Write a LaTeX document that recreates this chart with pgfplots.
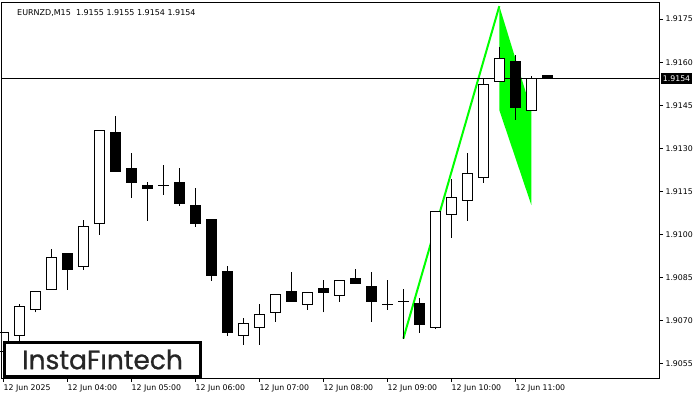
\documentclass[border=0pt]{standalone}
\usepackage{fontspec}
\setmainfont{DejaVu Sans}
\newfontfamily\logofont{Poppins}[FakeBold=0.8]
\usepackage{pgfplots}
\usepackage{pgfplotstable}
\pgfplotsset{compat=1.18}
\definecolor{flaggreen}{RGB}{0,255,0}
\pgfplotstableread{
i o h l c
0 1.90592 1.90661 1.90578 1.90661
1 1.90650 1.90760 1.90627 1.90751
2 1.90740 1.90801 1.90729 1.90801
3 1.90810 1.90950 1.90810 1.90922
4 1.90933 1.90933 1.90808 1.90878
5 1.90890 1.91051 1.90878 1.91029
6 1.91040 1.91363 1.91000 1.91363
7 1.91354 1.91413 1.91219 1.91219
8 1.91231 1.91284 1.91129 1.91181
9 1.91172 1.91183 1.91049 1.91160
10 1.91172 1.91242 1.91139 1.91172
11 1.91183 1.91232 1.91101 1.91108
12 1.91103 1.91162 1.91028 1.91038
13 1.91051 1.91051 1.90840 1.90857
14 1.90870 1.90891 1.90648 1.90659
15 1.90649 1.90710 1.90617 1.90689
16 1.90676 1.90759 1.90617 1.90721
17 1.90729 1.90790 1.90696 1.90790
18 1.90801 1.90870 1.90767 1.90767
19 1.90756 1.90800 1.90739 1.90800
20 1.90811 1.90842 1.90729 1.90798
21 1.90788 1.90842 1.90767 1.90842
22 1.90849 1.90881 1.90829 1.90829
23 1.90821 1.90870 1.90696 1.90767
24 1.90758 1.90842 1.90739 1.90758
25 1.90768 1.90811 1.90638 1.90768
26 1.90759 1.90780 1.90659 1.90687
27 1.90678 1.91081 1.90672 1.91081
28 1.91071 1.91194 1.90989 1.91130
29 1.91119 1.91284 1.91049 1.91211
30 1.91199 1.91544 1.91181 1.91523
31 1.91533 1.91653 1.91533 1.91613
32 1.91604 1.91625 1.91400 1.91442
33 1.91432 1.91552 1.91432 1.91544
34 1.91552 1.91552 1.91544 1.91544
}\candles
\begin{document}
\begin{tikzpicture}
\path[use as bounding box, fill=white] (0,0) rectangle (700pt,400pt);
\begin{axis}[
  at={(2pt,22pt)}, anchor=south west,
  width=657pt, height=375pt, scale only axis,
  xmin=-0.08, xmax=40.98, ymin=1.90501, ymax=1.91806,
  axis line style={line width=1pt, black},
  clip=true,
  xtick={0,4,8,12,16,20,24,28,32},
  xticklabels={12 Jun 2025,12 Jun 04:00,12 Jun 05:00,12 Jun 06:00,12 Jun 07:00,12 Jun 08:00,12 Jun 09:00,12 Jun 10:00,12 Jun 11:00},
  xtick pos=bottom,
  ytick={1.9055,1.9070,1.9085,1.9100,1.9115,1.9130,1.9145,1.9160,1.9175},
  yticklabels={1.9055,1.9070,1.9085,1.9100,1.9115,1.9130,1.9145,1.9160,1.9175},
  ytick pos=right, yticklabel pos=right,
  tick align=outside, major tick length=4pt,
  tick style={line width=1pt, black},
  xticklabel style={anchor=north west, xshift=-3.2pt, yshift=1pt, font=\fontsize{7.8}{9}\selectfont},
  yticklabel style={anchor=west, xshift=-1pt, font=\fontsize{7.8}{9}\selectfont},
]
% flag pattern
\addplot[fill=flaggreen, draw=none] coordinates {(31,1.91795) (33,1.91433) (33,1.91103) (31,1.91433)} -- cycle;
\addplot[flaggreen, line width=2pt, mark=none] coordinates {(25,1.90638) (31,1.91795)};
% current price line
\addplot[black, line width=1pt, mark=none] coordinates {(-0.08,1.91544) (40.98,1.91544)};
% wicks
\addplot[draw=none, mark=none, error bars/.cd, y dir=plus, y explicit, error mark=none,
  error bar style={line width=1pt, black}]
  table[x=i, y=l, y error plus expr=\thisrow{h}-\thisrow{l}] {\candles};
% bodies (black)
\addplot[draw=none, mark=none, error bars/.cd, y dir=plus, y explicit, error mark=none,
  error bar style={line width=11pt, black}]
  table[x=i, y expr={min(\thisrow{o},\thisrow{c})}, y error plus expr={abs(\thisrow{c}-\thisrow{o})}] {\candles};
% bodies (white interior for bullish)
\addplot[draw=none, mark=none, error bars/.cd, y dir=plus, y explicit, error mark=none,
  error bar style={line width=9pt, white}]
  table[x=i, y=o, y error plus expr={max(\thisrow{c}-\thisrow{o},0)}] {\candles};
% body edges
\addplot[only marks, mark=-, mark size=5.5pt, mark options={line width=1pt, black}] table[x=i, y=o] {\candles};
\addplot[only marks, mark=-, mark size=5.5pt, mark options={line width=1pt, black}] table[x=i, y=c] {\candles};
\coordinate (pricelbl) at (axis cs:40.98,1.91544);
\end{axis}
\node[fill=black, text=white, anchor=west, inner xsep=2.2pt, inner ysep=2.6pt, font=\fontsize{7.8}{9}\selectfont] at ([xshift=1.5pt]pricelbl) {1.9154};
\node[anchor=west, font=\fontsize{8}{9}\selectfont, inner sep=0pt] at (17pt,387pt) {EURNZD,M15\ \ 1.9155 1.9155 1.9154 1.9154};
\draw[line width=3pt, black, fill=white] (4.2pt,23.2pt) rectangle (200.5pt,57.8pt);
\node[font=\logofont\fontsize{26.5}{28}\selectfont, text=black!85, inner sep=0pt] at (102.5pt,40.5pt) {InstaFıntech};
\end{tikzpicture}
\end{document}
